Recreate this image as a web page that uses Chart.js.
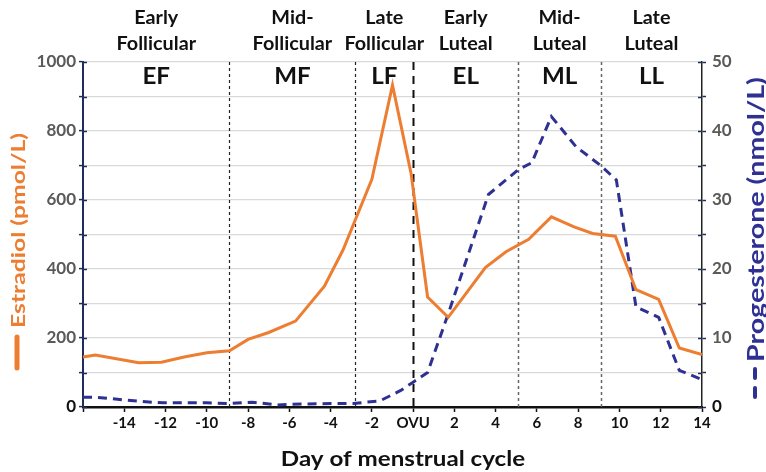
<!DOCTYPE html>
<html lang="en">
<head>
  <meta charset="UTF-8">
  <title>Estradiol and progesterone across the menstrual cycle</title>
  <script src="https://cdn.jsdelivr.net/npm/chart.js"></script>
  <style>
    body { margin: 0; background: #fff; }
    .chart-box { width: 766px; height: 472px; position: relative; }
  </style>
</head>
<body>
  <div class="chart-box">
    <canvas id="cycleChart"></canvas>
  </div>

  <script>
    // --- data ---
    const estradiolDays = [-16, -15.4, -13.3, -12.2, -11.1, -10, -8.9, -8, -7, -5.7, -4.3, -3.4, -2, -1, -0.1, 0.7, 1.7, 3.5, 4.5, 5.6, 6.7, 7.8, 8.7, 9.8, 10.8, 11.9, 12.9, 14];
    const estradiol = [145, 151, 128, 130, 145, 157, 163, 196, 216, 249, 350, 455, 660, 933, 677, 319, 260, 404, 450, 486, 551, 522, 503, 495, 340, 312, 171, 152];

    const progDays = [-16, -15.3, -13.2, -12.1, -10, -8.9, -7.8, -6.6, -6, -4, -2.9, -1.6, -0.6, 0, 0.7, 1.7, 3.65, 5.1, 5.75, 6.7, 7.9, 9.05, 9.85, 10.8, 11.9, 12.9, 13.9];
    const progesterone = [1.4, 1.4, 0.8, 0.6, 0.6, 0.5, 0.7, 0.3, 0.4, 0.5, 0.5, 0.9, 2.4, 3.6, 5.0, 13.5, 30.8, 34.4, 35.4, 42.1, 37.7, 35.1, 32.9, 14.5, 13.0, 5.3, 4.1];

    // phase boundaries (days) and labels
    const phaseEdges = [-16, -8.9, -2.8, 0, 5.1, 9.1, 14];
    const phaseNames = [['Early', 'Follicular'], ['Mid-', 'Follicular'], ['Late', 'Follicular'], ['Early', 'Luteal'], ['Mid-', 'Luteal'], ['Late', 'Luteal']];
    const phaseCodes = ['EF', 'MF', 'LF', 'EL', 'ML', 'LL'];

    const ORANGE = '#ED7D31';
    const NAVY = '#2E3192';
    const FONT = 'Lato, "Open Sans", sans-serif';

    // text drawn a bit wider than the font, like the original figure
    function wideText(ctx, text, x, y, sx) {
      ctx.save();
      ctx.translate(x, y);
      ctx.scale(sx, 1);
      ctx.fillText(text, 0, 0);
      ctx.restore();
    }

    // vertical phase lines, inner tick marks, titles and labels
    const decorations = {
      id: 'decorations',
      beforeDatasetsDraw(chart) {
        const ctx = chart.ctx;
        const area = chart.chartArea;
        const x = chart.scales.x;
        ctx.save();
        // phase separators (skip first and last edge)
        for (let i = 1; i < phaseEdges.length - 1; i++) {
          const px = Math.round(x.getPixelForValue(phaseEdges[i])) + 0.5;
          ctx.beginPath();
          if (phaseEdges[i] === 0) {
            ctx.setLineDash([8, 6]);
            ctx.lineWidth = 2;
            ctx.strokeStyle = '#111';
          } else if (phaseEdges[i] < 0) {
            ctx.setLineDash([3, 3]);
            ctx.lineWidth = 1.2;
            ctx.strokeStyle = '#222';
          } else {
            ctx.setLineDash([3, 3]);
            ctx.lineWidth = 1.5;
            ctx.strokeStyle = '#666';
          }
          ctx.moveTo(px, area.top);
          ctx.lineTo(px, area.bottom);
          ctx.stroke();
        }
        ctx.restore();
      },
      afterDraw(chart) {
        const ctx = chart.ctx;
        const area = chart.chartArea;
        const x = chart.scales.x;
        ctx.save();

        // inner halves of y tick marks
        ctx.strokeStyle = '#1F2D5A';
        ctx.lineWidth = 1.5;
        chart.scales.y.ticks.forEach(t => {
          const py = Math.round(chart.scales.y.getPixelForValue(t.value)) + 0.5;
          ctx.beginPath();
          ctx.moveTo(area.left, py);
          ctx.lineTo(area.left + 4, py);
          ctx.stroke();
        });
        chart.scales.y1.ticks.forEach(t => {
          const py = Math.round(chart.scales.y1.getPixelForValue(t.value)) + 0.5;
          ctx.beginPath();
          ctx.moveTo(area.right - 4, py);
          ctx.lineTo(area.right, py);
          ctx.stroke();
        });

        // phase names above the plot and codes inside it
        ctx.fillStyle = '#111';
        ctx.textAlign = 'center';
        ctx.textBaseline = 'alphabetic';
        for (let i = 0; i < phaseCodes.length; i++) {
          const cx = x.getPixelForValue((phaseEdges[i] + phaseEdges[i + 1]) / 2);
          ctx.font = 'bold 18px ' + FONT;
          wideText(ctx, phaseNames[i][0], cx, 24, 1.1);
          wideText(ctx, phaseNames[i][1], cx, 50, 1.1);
          ctx.font = 'bold 23px ' + FONT;
          wideText(ctx, phaseCodes[i], cx, 84, 1.05);
        }

        // x axis title
        ctx.font = 'bold 21px ' + FONT;
        wideText(ctx, 'Day of menstrual cycle', 403, 466, 1.15);

        // left title with legend marker
        ctx.strokeStyle = ORANGE;
        ctx.lineWidth = 5;
        ctx.lineCap = 'round';
        ctx.beginPath();
        ctx.moveTo(17, 337);
        ctx.lineTo(17, 368);
        ctx.stroke();
        ctx.save();
        ctx.translate(19, 328);
        ctx.rotate(-Math.PI / 2);
        ctx.scale(1.3, 1);
        ctx.textAlign = 'left';
        ctx.textBaseline = 'middle';
        ctx.fillStyle = ORANGE;
        ctx.font = 'bold 19px ' + FONT;
        ctx.fillText('Estradiol (pmol/L)', 0, 0);
        ctx.restore();

        // right title with dashed legend marker
        ctx.strokeStyle = NAVY;
        ctx.lineWidth = 4;
        ctx.lineCap = 'round';
        ctx.beginPath();
        ctx.moveTo(755, 369);
        ctx.lineTo(755, 378);
        ctx.moveTo(755, 388);
        ctx.lineTo(755, 397);
        ctx.stroke();
        ctx.save();
        ctx.translate(757, 362);
        ctx.rotate(-Math.PI / 2);
        ctx.scale(1.3, 1);
        ctx.textAlign = 'left';
        ctx.textBaseline = 'middle';
        ctx.fillStyle = NAVY;
        ctx.font = 'bold 22px ' + FONT;
        ctx.fillText('Progesterone (nmol/L)', 0, 0);
        ctx.restore();

        ctx.restore();
      }
    };

    const ctx = document.getElementById('cycleChart').getContext('2d');
    const cycleChart = new Chart(ctx, {
      type: 'line',
      data: {
        datasets: [
          {
            label: 'Estradiol',
            data: estradiolDays.map((d, i) => ({ x: d, y: estradiol[i] })),
            borderColor: ORANGE,
            borderWidth: 3,
            pointRadius: 0,
            fill: false,
            yAxisID: 'y'
          },
          {
            label: 'Progesterone',
            data: progDays.map((d, i) => ({ x: d, y: progesterone[i] })),
            borderColor: NAVY,
            borderWidth: 3,
            borderDash: [9, 6],
            pointRadius: 0,
            fill: false,
            yAxisID: 'y1'
          }
        ]
      },
      options: {
        responsive: true,
        maintainAspectRatio: false,
        animation: false,
        layout: { padding: { top: 62 } },
        plugins: {
          legend: { display: false },
          tooltip: { enabled: false }
        },
        scales: {
          x: {
            type: 'linear',
            min: -16,
            max: 14,
            afterFit(scale) { scale.height = 65; },
            afterBuildTicks(scale) {
              const ticks = [];
              for (let v = -16; v <= 14; v += 2) ticks.push({ value: v });
              scale.ticks = ticks;
            },
            border: { color: '#111', width: 2.5 },
            grid: { drawOnChartArea: false, tickLength: 5, tickColor: '#111', tickWidth: 1.5 },
            ticks: {
              autoSkip: false,
              maxRotation: 0,
              padding: 2,
              color: '#111',
              font: { family: FONT, size: 15, weight: 'bold' },
              callback: v => v === -16 ? '' : (v === 0 ? 'OVU' : v)
            }
          },
          y: {
            position: 'left',
            min: 0,
            max: 1000,
            afterFit(scale) { scale.width = 83; },
            border: { color: '#1F2D5A', width: 2 },
            grid: { color: '#D9D9D9', lineWidth: 1.2, tickLength: 4, tickColor: '#1F2D5A', tickWidth: 1.5 },
            ticks: {
              stepSize: 100,
              padding: 3,
              color: c => c.tick.value === 0 ? '#111' : '#595959',
              font: { family: FONT, size: 17, weight: 'bold' },
              callback: v => v % 200 === 0 ? v : ''
            }
          },
          y1: {
            position: 'right',
            min: 0,
            max: 50,
            afterFit(scale) { scale.width = 64; },
            border: { color: '#222', width: 1.5 },
            grid: { drawOnChartArea: false, tickLength: 4, tickColor: '#1F2D5A', tickWidth: 1.5 },
            ticks: {
              stepSize: 5,
              padding: 6,
              color: c => c.tick.value === 0 ? '#111' : '#595959',
              font: { family: FONT, size: 17, weight: 'bold' },
              callback: v => v % 10 === 0 ? v : ''
            }
          }
        }
      },
      plugins: [decorations]
    });
  </script>
</body>
</html>
